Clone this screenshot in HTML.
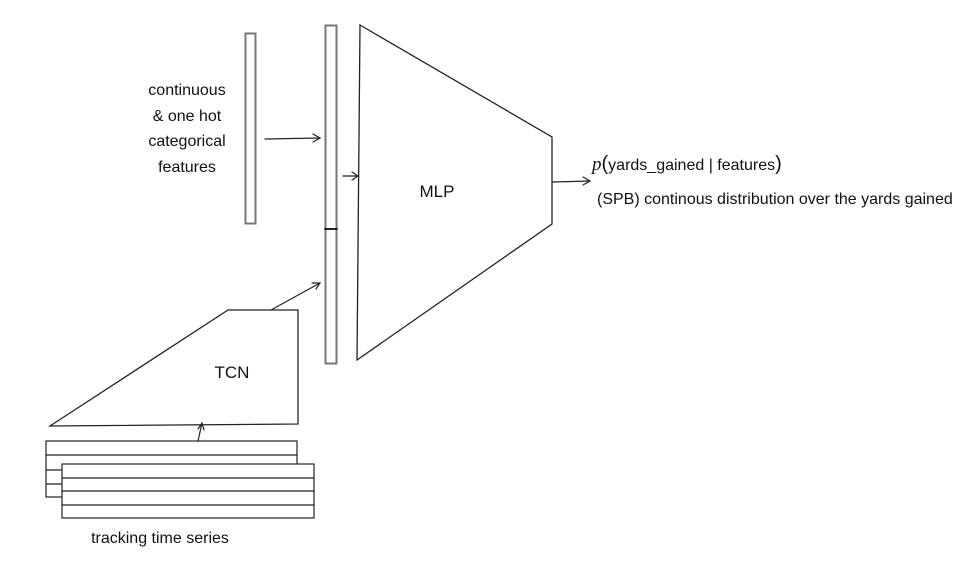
<!DOCTYPE html>
<html><head><meta charset="utf-8"><style>
html,body{margin:0;padding:0;background:#fff;}
svg{display:block;}
text{font-family:"Liberation Sans",sans-serif;fill:#111;}
</style></head><body>
<svg width="977" height="566" viewBox="0 0 977 566" xmlns="http://www.w3.org/2000/svg">
<g fill="none" stroke-linecap="round">
<rect x="245.5" y="33.5" width="10" height="190" stroke="#777" stroke-width="2"/>
<rect x="325.5" y="25.5" width="11" height="338" stroke="#777" stroke-width="2"/>
<line x1="325" y1="229" x2="337" y2="229" stroke="#222" stroke-width="2"/>
<polygon points="360,25 552,137 552,224 357,360" stroke="#222" stroke-width="1.3"/>
<polygon points="50,426 228,310 298,310 298,424" stroke="#222" stroke-width="1.3"/>
<g stroke="#222" stroke-width="1.2">
<line x1="265" y1="139" x2="320" y2="138"/><polyline points="313,134 320,138 313,142"/>
<line x1="343" y1="176" x2="358" y2="176"/><polyline points="352,172 358,176 352,180"/>
<line x1="271" y1="310" x2="320" y2="283"/><polyline points="312,283 320,283 316,289"/>
<line x1="198" y1="441" x2="202" y2="423"/><polyline points="198,429 202,423 204,430"/>
<line x1="552" y1="182" x2="590" y2="181"/><polyline points="583,177 590,181 583,185"/>
</g>
<g stroke="#222" stroke-width="1.2">
<rect x="46" y="441" width="251" height="56"/>
<line x1="46" y1="455" x2="297" y2="455"/>
<line x1="46" y1="470" x2="62" y2="470"/>
<line x1="46" y1="484" x2="62" y2="484"/>
<rect x="62" y="464" width="252" height="54" fill="#fff"/>
<line x1="62" y1="478" x2="314" y2="478"/>
<line x1="62" y1="491" x2="314" y2="491"/>
<line x1="62" y1="505" x2="314" y2="505"/>
</g>
</g>
<g font-size="16" text-anchor="middle">
<text x="187" y="95">continuous</text>
<text x="187" y="121">&amp; one hot</text>
<text x="187" y="146">categorical</text>
<text x="187" y="172">features</text>
<text x="160" y="543">tracking time series</text>
</g>
<text x="437" y="197" font-size="17" text-anchor="middle">MLP</text>
<text x="232" y="378" font-size="17" text-anchor="middle">TCN</text>
<text x="592" y="170" font-size="16"><tspan font-family="Liberation Serif" font-style="italic" font-size="19">p</tspan><tspan font-size="20">(</tspan>yards_gained | features<tspan font-size="20">)</tspan></text>
<text x="597" y="204" font-size="16">(SPB) continous distribution over the yards gained</text>
</svg>
</body></html>
